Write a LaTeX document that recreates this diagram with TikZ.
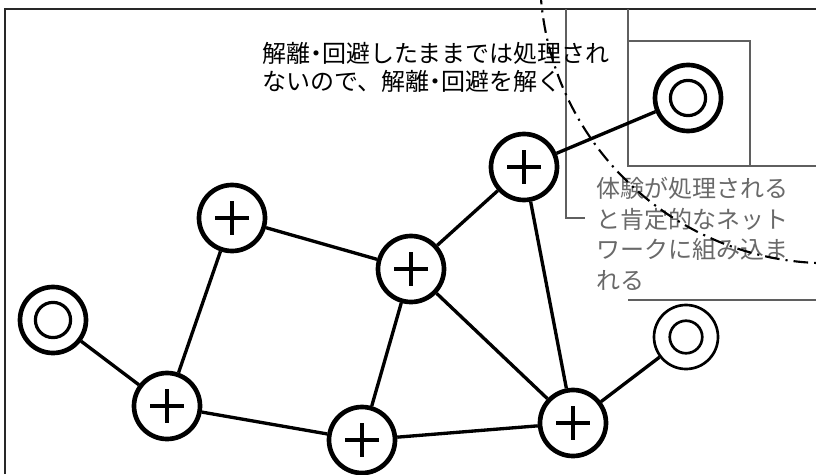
\documentclass[tikz,border=0pt]{standalone}
\usepackage{fontspec}
\setmainfont{Noto Sans CJK JP}
\definecolor{framecol}{RGB}{40,40,40}
\definecolor{rectcol}{RGB}{95,95,95}
\definecolor{txtgray}{RGB}{105,105,105}
\newcommand{\nardot}{\kern-.25em・\kern-.25em}
\begin{document}
\begin{tikzpicture}[x=0.75pt,y=-0.75pt,
  plusnode/.style={circle, draw, line width=3.5pt, minimum size=49.5pt, inner sep=0pt, fill=white,
    path picture={
      \draw[line width=2.4pt] ([xshift=-12.5pt]path picture bounding box.center) -- ([xshift=12.5pt]path picture bounding box.center);
      \draw[line width=2.4pt] ([yshift=-12.5pt]path picture bounding box.center) -- ([yshift=12.5pt]path picture bounding box.center);}},
  dblnode/.style={circle, draw, line width=3.5pt, minimum size=49.5pt, inner sep=0pt, fill=white,
    path picture={\draw[line width=2.4pt] (path picture bounding box.center) circle[radius=13.2pt];}},
  dblthin/.style={circle, draw, line width=2pt, minimum size=48pt, inner sep=0pt, fill=white,
    path picture={\draw[line width=2pt] (path picture bounding box.center) circle[radius=12.2pt];}},
  link/.style={line width=2.5pt},
  framel/.style={draw=framecol, line width=1.1pt},
  rectl/.style={draw=rectcol, line width=1pt},
  txt/.style={anchor=base west, inner sep=0pt, font=\fontsize{18}{21}\selectfont},
  graytxt/.style={txt, text=txtgray},
  dashdot/.style={line width=1.6pt, dash pattern=on 11pt off 4.5pt on 1.6pt off 4.5pt}
]
\useasboundingbox (0,0) rectangle (816,474);

% layout lines
\draw[framel] (5,474) -- (5,9) -- (816,9);
\draw[rectl] (566,9) -- (566,218) -- (585,218);
\draw[rectl] (628,9) -- (628,166) -- (816,166);
\draw[rectl] (628,41) -- (750,41) -- (750,166);
\draw[rectl] (628,300) -- (816,300);

% nodes
\node[plusnode] (p1) at (524,167) {};
\node[plusnode] (p2) at (232,218) {};
\node[plusnode] (p3) at (411,269) {};
\node[plusnode] (p4) at (167,406) {};
\node[plusnode] (p5) at (362,440) {};
\node[plusnode] (p6) at (573,423) {};
\node[dblnode] (d1) at (688,98) {};
\node[dblnode] (d2) at (53,320) {};
\node[dblthin] (d3) at (686,337) {};

% connectors
\draw[link] (p1) -- (d1);
\draw[link] (p1) -- (p3);
\draw[link] (p1) -- (p6);
\draw[link] (p2) -- (p3);
\draw[link] (p2) -- (p4);
\draw[link] (p3) -- (p5);
\draw[link] (p3) -- (p6);
\draw[link] (d2) -- (p4);
\draw[link] (p4) -- (p5);
\draw[link] (p5) -- (p6);
\draw[link] (p6) -- (d3);

% texts
\node[txt] (t1a) at (262,63) {解離\nardot 回避したままでは処理され};
\node[txt] (t1b) at (262,90.5) {ないので、解離\nardot 回避を解く};
\node[graytxt] (t2a) at (596,197) {体験が処理される};
\node[graytxt] (t2b) at (596,228) {と肯定的なネット};
\node[graytxt] (t2c) at (596,258.5) {ワークに組み込ま};
\node[graytxt] (t2d) at (596,289) {れる};

% dash-dot arc
\begin{scope}
\clip (0,0) rectangle (816,474);
\draw[dashdot] (828.5,-25.3) circle[radius=216.4pt];
\end{scope}
\end{tikzpicture}
\end{document}
